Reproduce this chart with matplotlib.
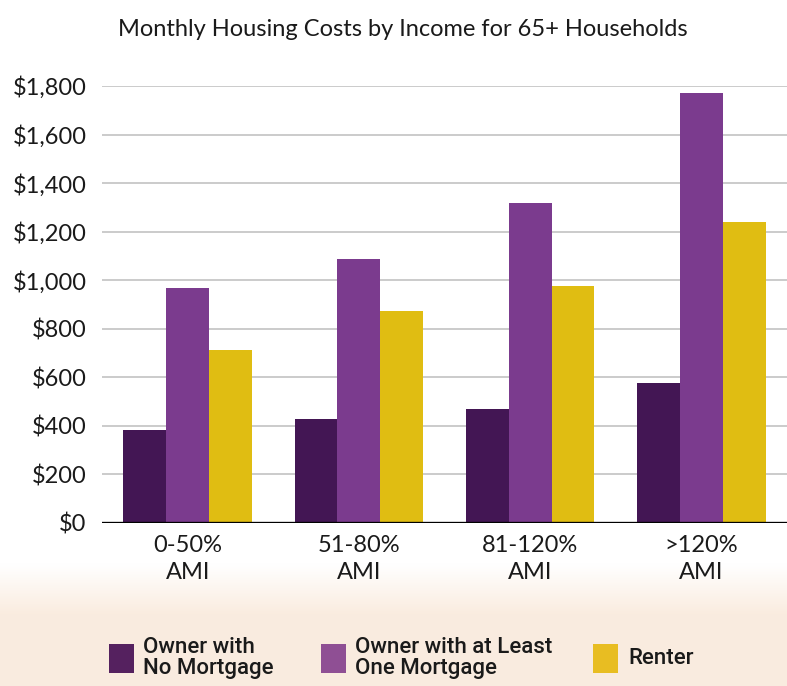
import matplotlib

matplotlib.use("Agg")
import matplotlib.pyplot as plt
import numpy as np
from matplotlib.patches import Rectangle

# ---- data ----
groups = ["0-50%\nAMI", "51-80%\nAMI", "81-120%\nAMI", ">120%\nAMI"]
series = ["Owner with\nNo Mortgage", "Owner with at Least\nOne Mortgage", "Renter"]
no_mortgage = [385, 430, 470, 578]
with_mortgage = [966, 1086, 1317, 1770]
renter = [714, 875, 978, 1238]
yticks = [0, 200, 400, 600, 800, 1000, 1200, 1400, 1600, 1800]

colors = ["#431654", "#7b3b8e", "#e0bd12"]
legend_colors = ["#55215f", "#8f4f94", "#e8bd22"]

W, H = 787, 686
fig = plt.figure(figsize=(W / 100, H / 100), dpi=100)

# background: white on top, faded peach band at the bottom
bg = fig.add_axes([0, 0, 1, 1], zorder=-10)
yy = np.linspace(0, 1, 400)[:, None]          # 0 = top, 1 = bottom
t = np.clip((yy - 565 / H) / (50 / H), 0, 1)
top = np.array([1.0, 1.0, 1.0])
bot = np.array([0.98, 0.925, 0.875])
grad = (1 - t)[..., None] * top + t[..., None] * bot
grad = np.repeat(grad, 2, axis=1)
bg.imshow(grad, aspect="auto", extent=[0, 1, 0, 1])
bg.set_xlim(0, 1)
bg.set_ylim(0, 1)
bg.set_axis_off()

ax = fig.add_axes([102 / W, 1 - 523 / H, 1 - 102 / W, (523 - 86) / H])
ax.patch.set_alpha(0)

x = np.arange(len(groups))
w = 0.25
for i, (vals, c) in enumerate(zip([no_mortgage, with_mortgage, renter], colors)):
    ax.bar(x + (i - 1) * w, vals, width=w, color=c, zorder=3)

ax.set_xlim(-0.5, 3.5)
ax.set_ylim(0, 1800)
ax.set_yticks(yticks)
ax.set_yticklabels([f"${v:,}" for v in yticks])
ax.set_xticks(x)
ax.set_xticklabels(groups, linespacing=1.35)
ax.grid(axis="y", color="#c2c2c2", lw=1.2, zorder=0)
ax.axhline(0, color="black", lw=2.4, zorder=4)
for s in ax.spines.values():
    s.set_visible(False)
ax.tick_params(axis="both", length=0, labelsize=17, colors="#1a1a1a")
ax.tick_params(axis="y", pad=11)
ax.tick_params(axis="x", pad=9)
for lab in ax.get_xticklabels() + ax.get_yticklabels():
    lab.set_family(["Lato", "DejaVu Sans"])

fig.text(403 / W, 1 - 30 / H, "Monthly Housing Costs by Income for 65+ Households",
         ha="center", va="center", fontsize=17, family=["Lato", "DejaVu Sans"],
         color="#1a1a1a")

# legend, drawn by hand (square + two-line label)
sq_x = [109, 321, 593]
tx_x = [143, 355, 628]
for c, label, sx, tx in zip(legend_colors, series, sq_x, tx_x):
    fig.patches.append(Rectangle((sx / W, 1 - 673 / H), 25 / W, 29 / H,
                                 transform=fig.transFigure, facecolor=c,
                                 edgecolor="none"))
    fig.text(tx / W, 1 - 658 / H, label, ha="left", va="center", fontsize=16,
             family=["Roboto", "DejaVu Sans"], fontweight="medium",
             linespacing=0.98, color="#1a1a1a")

fig.savefig("out.png", dpi=100)
